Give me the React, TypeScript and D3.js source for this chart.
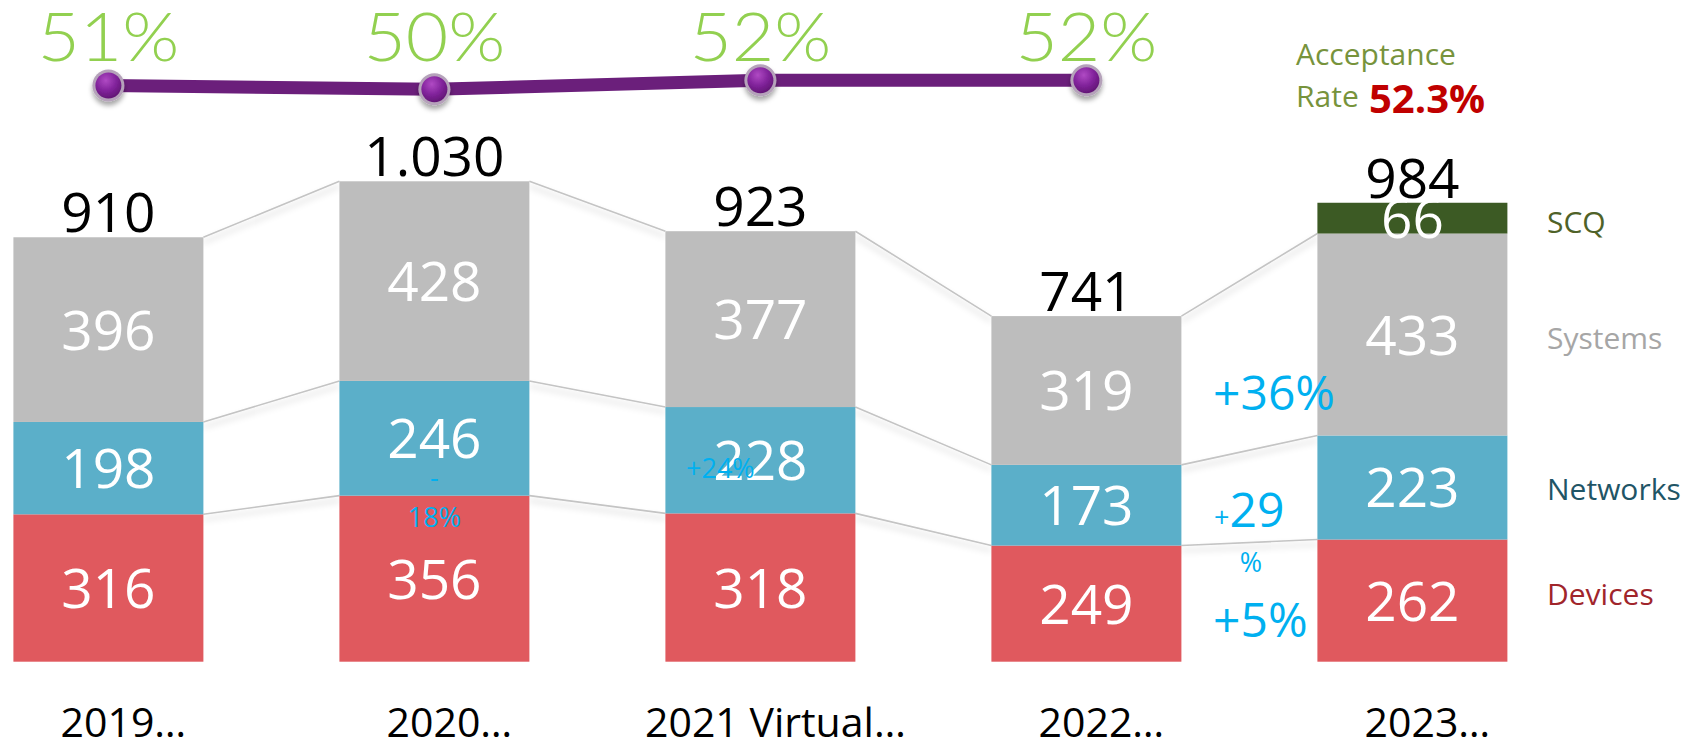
import React from "react";
import * as d3 from "d3";

const categories = ["2019…", "2020…", "2021 Virtual…", "2022…", "2023…"];
const devices = [316, 356, 318, 249, 262];
const networks = [198, 246, 228, 173, 223];
const systems = [396, 428, 377, 319, 433];
const scq = [0, 0, 0, 0, 66];
const totalLabels = ["910", "1.030", "923", "741", "984"];
const rateCategories = ["2019…", "2020…", "2021 Virtual…", "2022…"];
const rates = [50.9, 49.9, 52.3, 52.3];
const seriesKeys = ["Devices", "Networks", "Systems", "SCQ"];
const seriesColors = ["#E0595E", "#5BAFC9", "#BDBDBD", "#3C5A24"];
const legendColors = ["#A0252B", "#1F5566", "#A6A6A6", "#4F6228"];

const W = 1702;
const H = 745;
const FONT = "'Open Sans', 'Noto Sans', sans-serif";

export default function App() {
  const rows = categories.map((c, i) => ({
    cat: c,
    Devices: devices[i],
    Networks: networks[i],
    Systems: systems[i],
    SCQ: scq[i],
  }));
  const stack = d3.stack<any>().keys(seriesKeys)(rows);

  const x = d3
    .scaleBand<string>()
    .domain(categories)
    .range([-54.6, 1575.4])
    .paddingInner(0.4172)
    .paddingOuter(0.2086);
  const bw = x.bandwidth();
  const y = d3.scaleLinear().domain([0, 1030]).range([661.7, 181.3]);
  const ry = d3.scaleLinear().domain([49.9, 52.3]).range([89.3, 80.3]);
  const cx = (c: string) => (x(c) as number) + bw / 2;

  const rateLine = d3
    .line<number>()
    .x((_, i) => cx(rateCategories[i]))
    .y((d) => ry(d));

  const fmtRate = d3.format(".0f");
  const last = categories.length - 1;
  const legendBaselineShift = [4.5, 13, 14.5, 14.5];

  return (
    <svg
      width={W}
      height={H}
      style={{ position: "absolute", left: 0, top: 0, background: "#fff" }}
      fontFamily={FONT}
    >
      <defs>
        <filter id="lshadow" x="-10%" y="-50%" width="120%" height="300%">
          <feDropShadow dx="0" dy="5" stdDeviation="3" floodColor="#000" floodOpacity="0.22" />
        </filter>
        <filter id="mshadow" x="-50%" y="-50%" width="200%" height="220%">
          <feDropShadow dx="0" dy="4" stdDeviation="2.5" floodColor="#000" floodOpacity="0.35" />
        </filter>
        <radialGradient id="mgrad" cx="0.4" cy="0.3" r="0.75">
          <stop offset="0%" stopColor="#B04AC4" />
          <stop offset="55%" stopColor="#80229A" />
          <stop offset="100%" stopColor="#5E1570" />
        </radialGradient>
      </defs>

      {/* connector lines */}
      <g filter="url(#lshadow)">
        {stack.slice(0, 3).map((s) =>
          s.slice(0, -1).map((d, i) => {
            const c0 = categories[i];
            const c1 = categories[i + 1];
            return (
              <line
                key={s.key + i}
                x1={(x(c0) as number) + bw}
                y1={y(d[1])}
                x2={x(c1) as number}
                y2={y(s[i + 1][1])}
                stroke="#C4C4C4"
                strokeWidth={1.6}
              />
            );
          })
        )}
      </g>

      {/* bars */}
      {stack.map((s, si) =>
        s.map((d, i) =>
          d[1] - d[0] > 0 ? (
            <rect
              key={s.key + i}
              x={x(categories[i])}
              y={y(d[1])}
              width={bw}
              height={y(d[0]) - y(d[1])}
              fill={seriesColors[si]}
            />
          ) : null
        )
      )}

      {/* segment labels */}
      {stack.map((s) =>
        s.map((d, i) =>
          d[1] - d[0] > 0 ? (
            <text
              key={"t" + s.key + i}
              x={cx(categories[i])}
              y={(y(d[0]) + y(d[1])) / 2 + 20}
              textAnchor="middle"
              fill="#fff"
              fontSize={55}
            >
              {d[1] - d[0]}
            </text>
          ) : null
        )
      )}

      {/* totals */}
      {categories.map((c, i) => (
        <text
          key={"tot" + i}
          x={cx(c)}
          y={y(stack[stack.length - 1][i][1]) - 5}
          textAnchor="middle"
          fill="#000"
          fontSize={55}
        >
          {totalLabels[i]}
        </text>
      ))}

      {/* acceptance rate line */}
      <path
        d={rateLine(rates) as string}
        fill="none"
        stroke="#6B1F7B"
        strokeWidth={13}
        strokeLinejoin="round"
      />
      {rates.map((r, i) => (
        <g key={"m" + i} filter="url(#mshadow)">
          <circle cx={cx(rateCategories[i])} cy={ry(r)} r={16} fill="#B5A2BA" />
          <circle cx={cx(rateCategories[i])} cy={ry(r)} r={13} fill="url(#mgrad)" />
        </g>
      ))}
      {rates.map((r, i) => (
        <text
          key={"rl" + i}
          x={cx(rateCategories[i])}
          y={61}
          textAnchor="middle"
          fill="#92D050"
          fontSize={67}
          fontWeight={300}
          fontFamily="Lato, 'Open Sans', sans-serif"
          textLength={142}
          lengthAdjust="spacingAndGlyphs"
        >
          {fmtRate(r) + "%"}
        </text>
      ))}

      {/* acceptance rate legend text */}
      <text x={1296} y={65} fill="#77933C" fontSize={30}>
        Acceptance
      </text>
      <text x={1296} y={107} fill="#77933C" fontSize={30}>
        Rate
      </text>
      <text x={1369} y={113} fill="#C00000" fontSize={40} fontWeight={700}>
        52.3%
      </text>

      {/* series legend labels */}
      {seriesKeys.map((k, si) => {
        const d = stack[si][last];
        return (
          <text
            key={"lg" + k}
            x={1547}
            y={(y(d[0]) + y(d[1])) / 2 + legendBaselineShift[si]}
            fill={legendColors[si]}
            fontSize={30}
          >
            {k}
          </text>
        );
      })}

      {/* change annotations */}
      <g fill="#00B0F0">
        <text x={1213} y={410} fontSize={48}>+36%</text>
        <text x={1214} y={527}>
          <tspan fontSize={27}>+</tspan>
          <tspan fontSize={48}>29</tspan>
        </text>
        <text x={1251} y={572} fontSize={27} textAnchor="middle">%</text>
        <text x={1213} y={637} fontSize={48}>+5%</text>
        <text x={cx(categories[1])} y={487} fontSize={27} textAnchor="middle">-</text>
        <text x={cx(categories[1])} y={527} fontSize={27} textAnchor="middle">18%</text>
        <text x={686} y={478} fontSize={27}>+24%</text>
      </g>

      {/* x axis labels */}
      {categories.map((c) => (
        <text
          key={"ax" + c}
          x={cx(c) + 15}
          y={737}
          textAnchor="middle"
          fill="#000"
          fontSize={41}
        >
          {c}
        </text>
      ))}
    </svg>
  );
}
